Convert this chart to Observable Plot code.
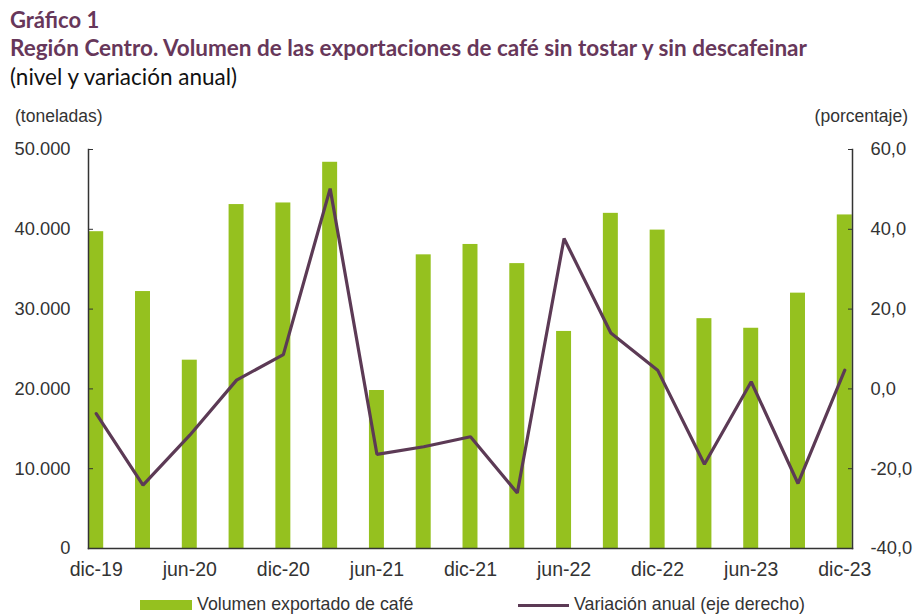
<!DOCTYPE html>
<html>
<head>
<meta charset="utf-8">
<script src="https://cdn.jsdelivr.net/npm/d3@7"></script>
<script src="https://cdn.jsdelivr.net/npm/@observablehq/plot@0.6"></script>
<style>
  body { margin: 0; background: #fff; width: 913px; height: 616px; overflow: hidden; position: relative; font-family: "Liberation Sans", Arial, sans-serif; }
  .t { position: absolute; white-space: nowrap; line-height: 1.2; }
  #g1 { left: 10px; top: 7px; font-family: Lato, "Open Sans", sans-serif; font-weight: 700; font-size: 22px; color: #67375a; }
  #g2 { left: 10px; top: 34px; font-family: Lato, "Open Sans", sans-serif; font-weight: 700; font-size: 22.5px; color: #67375a; }
  #g3 { left: 10px; top: 63px; font-family: Lato, "Open Sans", sans-serif; font-weight: 400; font-size: 22.5px; color: #111; }
  .unit { top: 106px; font-size: 17.5px; color: #333; }
  #chart { position: absolute; left: 0; top: 100px; }
  .leg { top: 594px; font-size: 17.8px; color: #333; }
  .sw { position: absolute; }
</style>
</head>
<body>
<div class="t" id="g1">Gráfico 1</div>
<div class="t" id="g2">Región Centro. Volumen de las exportaciones de café sin tostar y sin descafeinar</div>
<div class="t" id="g3">(nivel y variación anual)</div>
<div class="t unit" style="left:15px">(toneladas)</div>
<div class="t unit" style="right:5px">(porcentaje)</div>
<div id="chart"></div>
<div class="sw" style="left:140px;top:600px;width:52px;height:10px;background:#95c11f"></div>
<div class="t leg" style="left:197px">Volumen exportado de café</div>
<div class="sw" style="left:518px;top:604px;width:51px;height:3px;background:#5c3a55"></div>
<div class="t leg" style="left:574px">Variación anual (eje derecho)</div>
<script>
const periods = ["dic-19","mar-20","jun-20","sep-20","dic-20","mar-21","jun-21","sep-21","dic-21","mar-22","jun-22","sep-22","dic-22","mar-23","jun-23","sep-23","dic-23"];
const volumen = [39700, 32200, 23600, 43100, 43300, 48400, 19800, 36800, 38100, 35700, 27200, 42000, 39900, 28800, 27600, 32000, 41800];
const variacion = [-6.2, -24.1, -11.6, 2.2, 8.6, 50.2, -16.4, -14.5, -12.0, -26.1, 37.7, 14.0, 4.7, -18.9, 1.8, -23.7, 4.7];
const xTicks = ["dic-19","jun-20","dic-20","jun-21","dic-21","jun-22","dic-22","jun-23","dic-23"];
const leftTicks = [0, 10000, 20000, 30000, 40000, 50000];
const rightTicks = [-40, -20, 0, 20, 40, 60];

const rightMin = -40, rightMax = 60, leftMax = 50000;
const toLeft = v => (v - rightMin) / (rightMax - rightMin) * leftMax;
const fromLeft = y => y / leftMax * (rightMax - rightMin) + rightMin;

const loc = d3.formatLocale({decimal: ",", thousands: ".", grouping: [3], currency: ["", ""], minus: "-"});
const fmtL = loc.format(",.0f");
const fmtR = loc.format(".1f");

const data = periods.map((p, i) => ({p, vol: volumen[i], varr: variacion[i]}));

const chart = Plot.plot({
  width: 913,
  height: 490,
  marginLeft: 88,
  marginRight: 61,
  marginTop: 49,
  marginBottom: 42,
  style: {fontFamily: "'Liberation Sans', Arial, sans-serif", background: "transparent", color: "#333"},
  x: {type: "band", domain: periods, paddingInner: 0.68, paddingOuter: 0.005, round: false, label: null},
  y: {domain: [0, leftMax], label: null},
  marks: [
    Plot.barY(data, {x: "p", y: "vol", fill: "#95c11f"}),
    Plot.lineY(data, {x: "p", y: d => toLeft(d.varr), stroke: "#5c3a55", strokeWidth: 3.2, strokeLinejoin: "miter"}),
    Plot.axisY({anchor: "left", ticks: leftTicks, tickFormat: fmtL, tickSize: 0, tickPadding: 18, fontSize: 18.3, fill: "#333", label: null}),
    Plot.axisY({anchor: "left", ticks: leftTicks, tickSize: -5, text: null, stroke: "#333", label: null}),
    Plot.axisY({anchor: "right", ticks: rightTicks.map(toLeft), tickFormat: d => fmtR(fromLeft(d)), tickSize: 0, tickPadding: 18, fontSize: 18.3, fill: "#333", label: null}),
    Plot.axisY({anchor: "right", ticks: rightTicks.map(toLeft), tickSize: -5, text: null, stroke: "#333", label: null}),
    Plot.axisX({ticks: xTicks, tickSize: 0, tickPadding: 14, fontSize: 19.5, fill: "#333", label: null}),
    Plot.frame({anchor: "left", stroke: "#333", strokeWidth: 1.5}),
    Plot.frame({anchor: "right", stroke: "#333", strokeWidth: 1.5}),
    Plot.frame({anchor: "bottom", stroke: "#333", strokeWidth: 1.5})
  ]
});
document.getElementById("chart").appendChild(chart);
</script>
</body>
</html>
